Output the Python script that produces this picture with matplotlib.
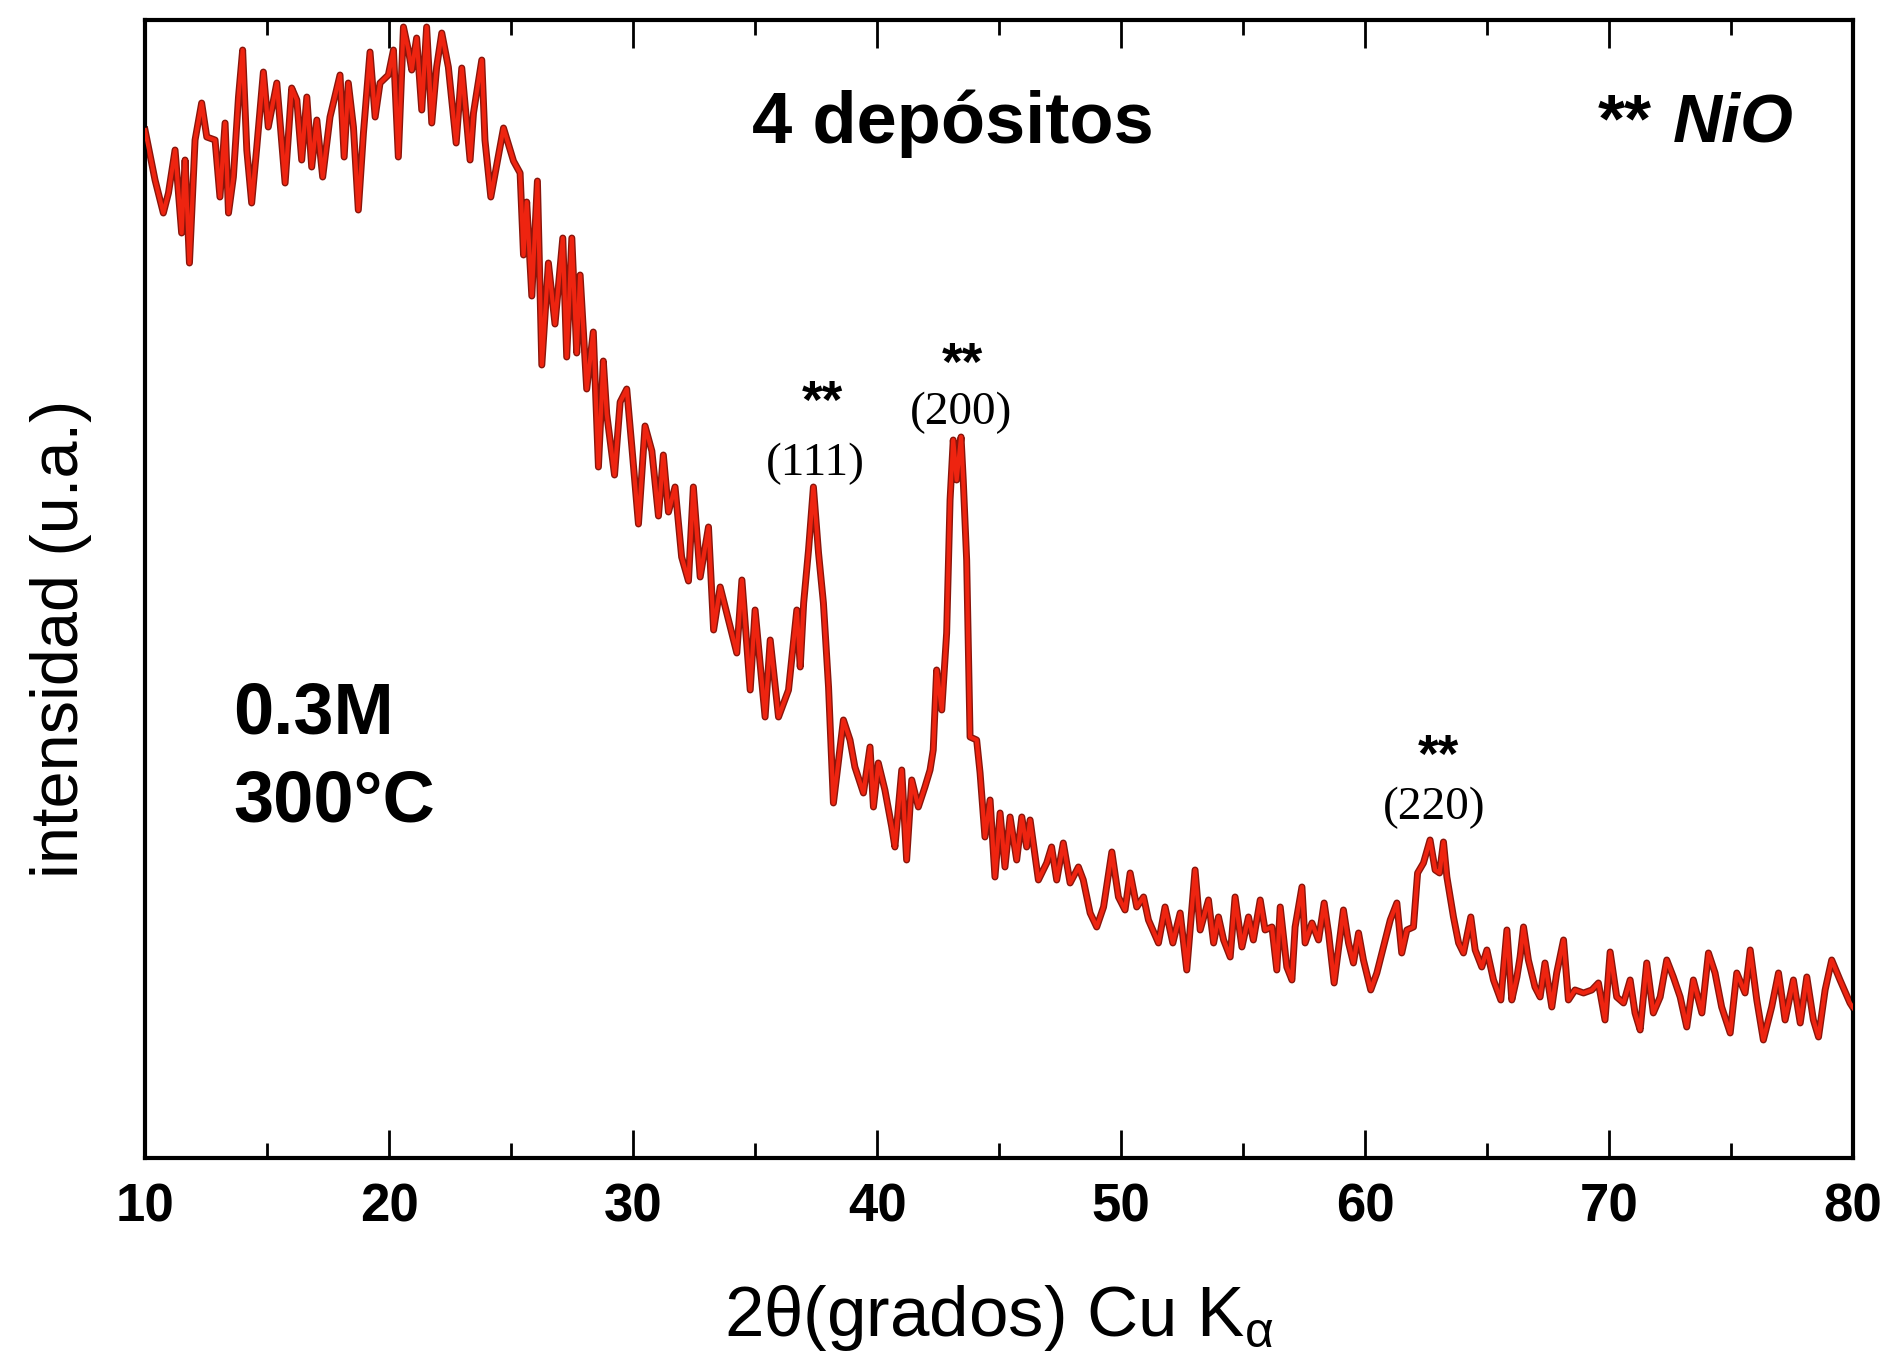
import matplotlib.pyplot as plt
from matplotlib.ticker import MultipleLocator

plt.rcParams['font.family'] = ['Liberation Sans', 'DejaVu Sans']
plt.rcParams['mathtext.fontset'] = 'custom'
plt.rcParams['mathtext.rm'] = 'Liberation Sans'
plt.rcParams['mathtext.it'] = 'Liberation Sans:italic'

# XRD scan, 4 deposits, 0.3M, 300°C
two_theta = [
    10.00, 10.41, 10.75, 10.96, 11.23, 11.50, 11.64, 11.82, 12.05, 12.32,
    12.53, 12.87, 13.07, 13.28, 13.42, 13.62, 13.83, 14.00, 14.17, 14.37,
    14.58, 14.85, 15.05, 15.40, 15.74, 16.01, 16.22, 16.42, 16.63, 16.83,
    17.04, 17.28, 17.58, 17.99, 18.16, 18.33, 18.54, 18.74, 18.95, 19.22,
    19.43, 19.63, 19.97, 20.18, 20.38, 20.59, 20.79, 20.93, 21.13, 21.34,
    21.54, 21.75, 21.95, 22.16, 22.43, 22.75, 22.98, 23.32, 23.46, 23.80,
    23.93, 24.17, 24.69, 25.10, 25.37, 25.51, 25.64, 25.85, 26.08, 26.26,
    26.53, 26.80, 27.12, 27.28, 27.49, 27.69, 27.83, 28.10, 28.37, 28.58,
    28.78, 28.92, 29.24, 29.47, 29.74, 29.95, 30.22, 30.49, 30.77, 31.04,
    31.24, 31.45, 31.72, 31.99, 32.27, 32.47, 32.75, 33.09, 33.30, 33.57,
    33.98, 34.25, 34.46, 34.80, 35.00, 35.41, 35.62, 35.96, 36.37, 36.71,
    36.85, 36.99, 37.19, 37.39, 37.60, 37.80, 38.01, 38.21, 38.62, 38.89,
    39.09, 39.44, 39.71, 39.85, 40.05, 40.32, 40.60, 40.73, 41.01, 41.21,
    41.42, 41.69, 41.96, 42.17, 42.30, 42.44, 42.65, 42.85, 42.99, 43.12,
    43.26, 43.44, 43.53, 43.67, 43.81, 44.08, 44.22, 44.42, 44.63, 44.83,
    45.04, 45.24, 45.45, 45.72, 45.93, 46.13, 46.27, 46.61, 46.95, 47.15,
    47.36, 47.63, 47.91, 48.25, 48.45, 48.73, 49.00, 49.28, 49.62, 49.89,
    50.16, 50.37, 50.64, 50.92, 51.12, 51.53, 51.80, 52.12, 52.42, 52.69,
    53.03, 53.24, 53.58, 53.79, 53.99, 54.20, 54.47, 54.67, 54.95, 55.22,
    55.42, 55.70, 55.90, 56.18, 56.38, 56.52, 56.79, 57.00, 57.13, 57.41,
    57.54, 57.82, 58.09, 58.32, 58.50, 58.73, 59.11, 59.32, 59.52, 59.73,
    59.93, 60.23, 60.48, 60.75, 61.03, 61.30, 61.50, 61.71, 61.98, 62.15,
    62.39, 62.66, 62.87, 63.05, 63.21, 63.35, 63.62, 63.83, 64.03, 64.33,
    64.51, 64.78, 64.99, 65.26, 65.56, 65.81, 66.01, 66.22, 66.35, 66.49,
    66.69, 66.96, 67.17, 67.37, 67.65, 67.85, 68.13, 68.33, 68.60, 68.95,
    69.29, 69.56, 69.83, 70.04, 70.31, 70.59, 70.86, 71.06, 71.27, 71.54,
    71.81, 72.09, 72.36, 72.63, 72.91, 73.18, 73.45, 73.80, 74.07, 74.34,
    74.61, 74.96, 75.23, 75.57, 75.78, 76.05, 76.32, 76.66, 76.94, 77.21,
    77.55, 77.83, 78.10, 78.37, 78.58, 78.85, 79.12, 79.46, 79.87, 80.00,
]
intensity = [
    1028, 978, 945, 965, 1008, 925, 998, 895, 1018, 1055,
    1021, 1018, 961, 1035, 945, 981, 1061, 1108, 1008, 955,
    1011, 1086, 1031, 1075, 975, 1070, 1058, 998, 1061, 991,
    1038, 981, 1041, 1083, 1001, 1075, 1031, 948, 1025, 1106,
    1041, 1075, 1083, 1108, 1001, 1131, 1108, 1088, 1120, 1048,
    1131, 1035, 1091, 1125, 1091, 1015, 1090, 998, 1045, 1098,
    1018, 961, 1030, 997, 985, 903, 956, 862, 977, 793,
    895, 834, 920, 801, 920, 805, 883, 769, 826, 691,
    797, 744, 683, 756, 769, 711, 634, 732, 707, 642,
    703, 646, 671, 601, 577, 671, 581, 631, 528, 571,
    531, 505, 578, 468, 548, 441, 518, 441, 468, 548,
    491, 555, 608, 671, 605, 555, 471, 355, 438, 418,
    391, 365, 411, 351, 395, 368, 331, 311, 388, 298,
    378, 351, 371, 388, 408, 488, 448, 525, 658, 718,
    678, 721, 678, 598, 421, 418, 385, 321, 358, 281,
    345, 291, 341, 298, 341, 311, 338, 278, 295, 311,
    278, 315, 275, 291, 278, 245, 231, 251, 306, 261,
    248, 285, 251, 261, 238, 215, 251, 215, 245, 188,
    288, 228, 258, 215, 241, 218, 201, 261, 211, 241,
    218, 258, 228, 231, 188, 251, 191, 178, 231, 271,
    215, 235, 218, 255, 225, 175, 248, 215, 195, 225,
    198, 168, 185, 211, 238, 255, 205, 228, 231, 285,
    295, 318, 288, 285, 316, 281, 241, 215, 205, 241,
    208, 191, 208, 178, 158, 228, 158, 181, 201, 231,
    198, 171, 161, 195, 151, 185, 218, 158, 168, 165,
    168, 175, 138, 206, 161, 155, 178, 145, 128, 195,
    145, 161, 198, 181, 161, 131, 178, 145, 205, 185,
    151, 125, 185, 165, 208, 158, 118, 151, 185, 138,
    178, 135, 181, 138, 121, 168, 198, 178, 155, 150,
]

# NiO reflections
hkl_labels = ['(111)', '(200)', '(220)']

fig = plt.figure(figsize=(18.91, 13.62), dpi=100)
ax = fig.add_axes([0.0767, 0.1498, 0.9033, 0.8355])

# dark outline under the red trace
ax.plot(two_theta, intensity, color='#8a150b', lw=5.0, zorder=2)
ax.plot(two_theta, intensity, color='#ee2410', lw=3.0, zorder=3)

ax.set_xlim(10, 80)
ax.set_ylim(0, 1138)
ax.set_yticks([])

ax.xaxis.set_major_locator(MultipleLocator(10))
ax.xaxis.set_minor_locator(MultipleLocator(5))
ax.tick_params(axis='x', which='major', direction='in', top=True,
               length=20, width=2, labelsize=38, pad=18)
ax.tick_params(axis='x', which='minor', direction='in', top=True,
               length=11, width=2)
for lbl in ax.get_xticklabels():
    lbl.set_fontweight('bold')

for s in ax.spines.values():
    s.set_linewidth(3)

ax.set_xlabel(r'2θ(grados) Cu K$_{\mathrm{α}}$', fontsize=51, labelpad=36)
ax.set_ylabel('intensidad (u.a.)', fontsize=48)
ax.yaxis.set_label_coords(-0.031, 0.456)

# annotations
ax.text(43.1, 1034, '4 depósitos', fontsize=52, fontweight='bold',
        ha='center', va='center')
ax.text(71.76, 1017, '**', fontsize=50, fontweight='bold',
        ha='right', va='baseline')
ax.text(72.62, 1017, 'NiO', fontsize=49, fontweight='bold', style='italic',
        ha='left', va='baseline')
ax.text(13.61, 424, '0.3M', fontsize=52, fontweight='bold',
        ha='left', va='baseline')
ax.text(13.61, 336, '300°C', fontsize=52, fontweight='bold',
        ha='left', va='baseline')

# peak labels
label_x = [37.46, 43.44, 62.83]
label_y = [694, 745, 350]
star_x = [37.75, 43.48, 62.99]
star_y = [740, 778, 386]
for hkl, lx, ly, sx, sy in zip(hkl_labels, label_x, label_y, star_x, star_y):
    ax.text(lx, ly, hkl, fontsize=34, family='Liberation Serif',
            ha='center', va='center')
    ax.text(sx, sy, '**', fontsize=38, fontweight='bold',
            ha='center', va='baseline')

fig.savefig('out.png', dpi=100)
